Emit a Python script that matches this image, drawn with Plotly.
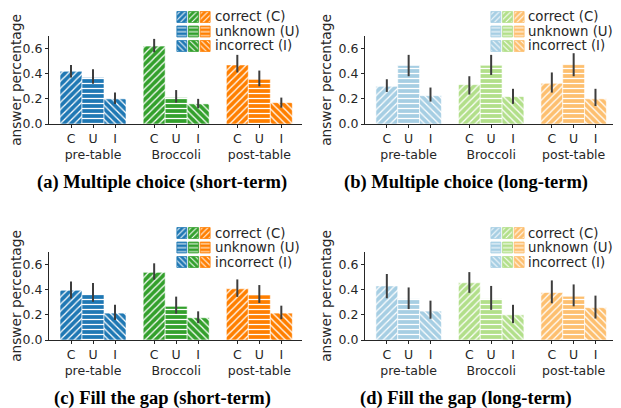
import plotly.graph_objects as go

groups = ["pre-table", "Broccoli", "post-table"]
answers = ["C", "U", "I"]
answer_labels = ["correct (C)", "unknown (U)", "incorrect (I)"]
y_ticks = [0.0, 0.2, 0.4, 0.6]
y_title = "answer percentage"
captions = ["(a) Multiple choice (short-term)", "(b) Multiple choice (long-term)",
            "(c) Fill the gap (short-term)", "(d) Fill the gap (long-term)"]

# rows = groups (pre-table, Broccoli, post-table); columns = C, U, I
mc_short_mean = [[0.42, 0.37, 0.20], [0.62, 0.21, 0.16], [0.47, 0.355, 0.17]]
mc_short_hi = [[0.47, 0.435, 0.25], [0.677, 0.27, 0.20], [0.55, 0.425, 0.21]]
mc_short_lo = [[0.37, 0.32, 0.16], [0.57, 0.17, 0.125], [0.41, 0.30, 0.13]]

mc_long_mean = [[0.30, 0.465, 0.225], [0.313, 0.467, 0.218], [0.324, 0.472, 0.20]]
mc_long_hi = [[0.356, 0.55, 0.29], [0.38, 0.55, 0.28], [0.41, 0.563, 0.28]]
mc_long_lo = [[0.255, 0.38, 0.178], [0.234, 0.39, 0.16], [0.25, 0.38, 0.143]]

fg_short_mean = [[0.396, 0.362, 0.214], [0.538, 0.268, 0.177], [0.407, 0.359, 0.214]]
fg_short_hi = [[0.466, 0.453, 0.28], [0.61, 0.345, 0.228], [0.482, 0.437, 0.273]]
fg_short_lo = [[0.33, 0.305, 0.16], [0.48, 0.21, 0.134], [0.343, 0.295, 0.166]]

fg_long_mean = [[0.43, 0.327, 0.23], [0.455, 0.327, 0.20], [0.378, 0.348, 0.257]]
fg_long_hi = [[0.525, 0.418, 0.313], [0.54, 0.43, 0.28], [0.474, 0.442, 0.353]]
fg_long_lo = [[0.332, 0.246, 0.169], [0.375, 0.24, 0.134], [0.292, 0.268, 0.171]]

dark_colors = ["#1f78b4", "#33a02c", "#ff7f00"]
light_colors = ["#a6cee3", "#b2df8a", "#fdbf6f"]
hatches = ["/", "-", "\\"]

# ---------------------------------------------------------------- layout
# the page body has an 8px margin, so the figure is offset by (8, 8)
OFF = 8
W, H = 621 - OFF, 408 - OFF
FONT = "DejaVu Sans"
TXT = "#262626"
FS_TICK = 12.5
FS_LABEL = 13.7
FS_LEG = 13.3
group_step = 3.78


def px(x):
    return (x - OFF) / W


def py(y):
    return 1 - (y - OFF) / H


def hatch_marker(color, shape, size, edge):
    # "replace" mode: hatch lines take marker.color (white), background = bar colour
    return dict(color="white", line=dict(color=edge, width=0.8),
                pattern=dict(shape=shape, fillmode="replace", bgcolor=color,
                             fgopacity=1, size=size, solidity=0.25))


panels = [
    dict(mean=mc_short_mean, hi=mc_short_hi, lo=mc_short_lo, colors=dark_colors,
         box=(49, 302, 36, 124), leg=(176, 214, 17), cap=(162, 182)),
    dict(mean=mc_long_mean, hi=mc_long_hi, lo=mc_long_lo, colors=light_colors,
         box=(365, 616, 36, 124), leg=(490, 527, 17), cap=(466, 182)),
    dict(mean=fg_short_mean, hi=fg_short_hi, lo=fg_short_lo, colors=dark_colors,
         box=(49, 302, 252, 340), leg=(176, 214, 233), cap=(162, 398)),
    dict(mean=fg_long_mean, hi=fg_long_hi, lo=fg_long_lo, colors=light_colors,
         box=(365, 616, 252, 340), leg=(490, 527, 233), cap=(466, 398)),
]

fig = go.Figure()
layout = dict(width=W, height=H, margin=dict(l=0, r=0, t=0, b=0),
              paper_bgcolor="white", plot_bgcolor="white", showlegend=False,
              font=dict(family=FONT, size=FS_TICK, color=TXT))
annotations = []

tickvals = [g * group_step + a for g in range(len(groups)) for a in range(len(answers))]
ticktext = [(f"{ans}<br>{grp}" if a == 1 else ans)
            for grp in groups for a, ans in enumerate(answers)]

row_gap = 14.5
for p, pan in enumerate(panels):
    k = p + 1
    xa = "x" if k == 1 else f"x{k}"
    ya = "y" if k == 1 else f"y{k}"
    x0, x1, yt, yb = pan["box"]
    for g in range(len(groups)):
        for a in range(len(answers)):
            m = pan["mean"][g][a]
            fig.add_trace(go.Bar(
                x=[g * group_step + a], y=[m], width=1.0, xaxis=xa, yaxis=ya,
                marker=hatch_marker(pan["colors"][g], hatches[a], 5,
                                    "rgba(255,255,255,0.75)"),
                error_y=dict(type="data", symmetric=False,
                             array=[pan["hi"][g][a] - m], arrayminus=[m - pan["lo"][g][a]],
                             color="#3d3d3d", thickness=2, width=0),
                hoverinfo="skip"))
    axis_common = dict(showline=True, linecolor=TXT, linewidth=1.2, ticks="outside",
                       ticklen=3, tickcolor=TXT, showgrid=False, zeroline=False,
                       automargin=False, fixedrange=True, tickangle=0,
                       tickfont=dict(family=FONT, size=FS_TICK, color=TXT))
    layout["xaxis" if k == 1 else f"xaxis{k}"] = dict(
        domain=[px(x0), px(x1)], anchor=ya, range=[-1.0, 10.5],
        tickmode="array", tickvals=tickvals, ticktext=ticktext, **axis_common)
    layout["yaxis" if k == 1 else f"yaxis{k}"] = dict(
        domain=[py(yb), py(yt)], anchor=xa, range=[0, 0.7],
        tickmode="array", tickvals=y_ticks, tickformat=".1f",
        title=dict(text=y_title, font=dict(family=FONT, size=FS_LABEL, color=TXT),
                   standoff=3),
        **axis_common)

    # legend drawn as a tiny 3x3 grid of hatched swatches
    lk = k + 4
    lxa, lya = f"x{lk}", f"y{lk}"
    sx, tx, r0 = pan["leg"]
    for a in range(len(answers)):
        for g in range(len(groups)):
            fig.add_trace(go.Bar(
                x=[g], y=[0.75], base=[a - 0.375], width=0.85, xaxis=lxa, yaxis=lya,
                marker=hatch_marker(pan["colors"][g], hatches[a], 4, pan["colors"][g]),
                hoverinfo="skip"))
        annotations.append(dict(text=answer_labels[a], xref="paper", yref="paper",
                                x=px(tx), y=py(r0 + a * row_gap), align="left",
                                xanchor="left", yanchor="middle", showarrow=False,
                                borderpad=0,
                                font=dict(family=FONT, size=FS_LEG, color=TXT)))
    top = r0 - row_gap / 2
    bot = r0 + 2 * row_gap + row_gap / 2
    layout[f"xaxis{lk}"] = dict(domain=[px(sx), px(sx + 35)], anchor=lya,
                                range=[-0.5, 2.5], visible=False, fixedrange=True)
    layout[f"yaxis{lk}"] = dict(domain=[py(bot), py(top)], anchor=lxa,
                                range=[2.5, -0.5], visible=False, fixedrange=True)

    cx, cy = pan["cap"]
    annotations.append(dict(text=f"<b>{captions[p]}</b>", xref="paper", yref="paper",
                            x=px(cx), y=py(cy), xanchor="center", yanchor="middle",
                            showarrow=False,
                            font=dict(family="Liberation Serif", size=18.5, color="black")))

layout["annotations"] = annotations
layout["barmode"] = "overlay"
fig.update_layout(**layout)
fig.write_html("out.html")
